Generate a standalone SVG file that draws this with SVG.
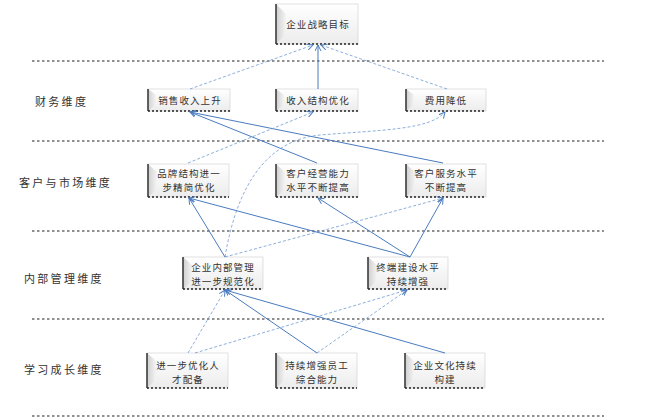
<svg xmlns="http://www.w3.org/2000/svg" width="651" height="420" viewBox="0 0 651 420">
<style>
.sep{stroke:#222;stroke-width:1.2;stroke-dasharray:2.5 2.5;fill:none}
.face{fill:url(#gf);stroke:#ccc;stroke-width:0.6}
.bev{fill:url(#gb)}
.lft{stroke:#333;stroke-width:1.5}
.bot{stroke:#222;stroke-width:1.3;stroke-dasharray:2 2}
.t{font-family:"Noto Sans CJK SC","Liberation Serif",serif;font-size:9.5px;fill:#333;text-anchor:middle;letter-spacing:1.1px}
.lab{font-family:"Noto Sans CJK SC","Liberation Serif",serif;font-size:11px;fill:#333;letter-spacing:2.3px}
.s{stroke:#4a7bbf;stroke-width:1;fill:none;marker-end:url(#ah)}
.d{stroke:#6f9bd2;stroke-width:0.8;fill:none;stroke-dasharray:3 2;marker-end:url(#ah)}
</style>
<defs>
<linearGradient id="gf" x1="0" y1="0" x2="0" y2="1"><stop offset="0" stop-color="#ffffff"/><stop offset="1" stop-color="#ececec"/></linearGradient>
<linearGradient id="gb" x1="0" y1="0" x2="1" y2="0"><stop offset="0" stop-color="#cfcfcf"/><stop offset="1" stop-color="#f4f4f4"/></linearGradient>
<marker id="ah" markerWidth="7" markerHeight="7" refX="6" refY="3.5" orient="auto" markerUnits="userSpaceOnUse"><path d="M0,0.5 L6,3.5 L0,6.5" fill="none" stroke="#4a7bbf" stroke-width="1"/></marker>
</defs>
<rect width="651" height="420" fill="#fff"/>
<g id="separators">
<line class="sep" x1="32" y1="61" x2="604" y2="61"/>
<line class="sep" x1="32" y1="141" x2="604" y2="141"/>
<line class="sep" x1="32" y1="231" x2="604" y2="231"/>
<line class="sep" x1="32" y1="319" x2="604" y2="319"/>
<line class="sep" x1="32" y1="416" x2="604" y2="416"/>
</g>
<g id="labels">
<text class="lab" x="35" y="106">财务维度</text>
<text class="lab" x="19" y="187">客户与市场维度</text>
<text class="lab" x="24" y="283">内部管理维度</text>
<text class="lab" x="24" y="374">学习成长维度</text>
</g>
<g id="n-goal">
<rect class="face" x="276" y="4" width="82" height="40"/>
<polygon class="bev" points="276,4 286,14 286,34 276,44"/>
<line class="lft" x1="276" y1="4" x2="276" y2="44"/>
<line class="bot" x1="276" y1="44" x2="358" y2="44"/>
<text class="t" x="318" y="28">企业战略目标</text>
</g>
<g id="n-fin1">
<rect class="face" x="148" y="89" width="82" height="22"/>
<polygon class="bev" points="148,89 156,95 156,105 148,111"/>
<line class="lft" x1="148" y1="89" x2="148" y2="111"/>
<line class="bot" x1="148" y1="111" x2="230" y2="111"/>
<text class="t" x="190" y="104">销售收入上升</text>
</g>
<g id="n-fin2">
<rect class="face" x="276" y="89" width="82" height="22"/>
<polygon class="bev" points="276,89 284,95 284,105 276,111"/>
<line class="lft" x1="276" y1="89" x2="276" y2="111"/>
<line class="bot" x1="276" y1="111" x2="358" y2="111"/>
<text class="t" x="318" y="104">收入结构优化</text>
</g>
<g id="n-fin3">
<rect class="face" x="406" y="89" width="80" height="22"/>
<polygon class="bev" points="406,89 414,95 414,105 406,111"/>
<line class="lft" x1="406" y1="89" x2="406" y2="111"/>
<line class="bot" x1="406" y1="111" x2="486" y2="111"/>
<text class="t" x="446" y="104">费用降低</text>
</g>
<g id="n-cus1">
<rect class="face" x="148" y="164" width="81" height="33"/>
<polygon class="bev" points="148,164 157,172 157,189 148,197"/>
<line class="lft" x1="148" y1="164" x2="148" y2="197"/>
<line class="bot" x1="148" y1="197" x2="229" y2="197"/>
<text class="t" x="189" y="177">品牌结构进一</text>
<text class="t" x="189" y="191">步精简优化</text>
</g>
<g id="n-cus2">
<rect class="face" x="276" y="164" width="82" height="33"/>
<polygon class="bev" points="276,164 285,172 285,189 276,197"/>
<line class="lft" x1="276" y1="164" x2="276" y2="197"/>
<line class="bot" x1="276" y1="197" x2="358" y2="197"/>
<text class="t" x="318" y="177">客户经营能力</text>
<text class="t" x="318" y="191">水平不断提高</text>
</g>
<g id="n-cus3">
<rect class="face" x="406" y="164" width="80" height="33"/>
<polygon class="bev" points="406,164 415,172 415,189 406,197"/>
<line class="lft" x1="406" y1="164" x2="406" y2="197"/>
<line class="bot" x1="406" y1="197" x2="486" y2="197"/>
<text class="t" x="446" y="177">客户服务水平</text>
<text class="t" x="446" y="191">不断提高</text>
</g>
<g id="n-int1">
<rect class="face" x="183" y="257" width="80" height="32"/>
<polygon class="bev" points="183,257 192,265 192,281 183,289"/>
<line class="lft" x1="183" y1="257" x2="183" y2="289"/>
<line class="bot" x1="183" y1="289" x2="263" y2="289"/>
<text class="t" x="223" y="271">企业内部管理</text>
<text class="t" x="223" y="285">进一步规范化</text>
</g>
<g id="n-int2">
<rect class="face" x="368" y="257" width="80" height="32"/>
<polygon class="bev" points="368,257 377,265 377,281 368,289"/>
<line class="lft" x1="368" y1="257" x2="368" y2="289"/>
<line class="bot" x1="368" y1="289" x2="448" y2="289"/>
<text class="t" x="408" y="271">终端建设水平</text>
<text class="t" x="408" y="285">持续增强</text>
</g>
<g id="n-lrn1">
<rect class="face" x="147" y="353" width="81" height="35"/>
<polygon class="bev" points="147,353 156,361 156,380 147,388"/>
<line class="lft" x1="147" y1="353" x2="147" y2="388"/>
<line class="bot" x1="147" y1="388" x2="228" y2="388"/>
<text class="t" x="188" y="369">进一步优化人</text>
<text class="t" x="188" y="383">才配备</text>
</g>
<g id="n-lrn2">
<rect class="face" x="276" y="353" width="81" height="35"/>
<polygon class="bev" points="276,353 285,361 285,380 276,388"/>
<line class="lft" x1="276" y1="353" x2="276" y2="388"/>
<line class="bot" x1="276" y1="388" x2="357" y2="388"/>
<text class="t" x="317" y="369">持续增强员工</text>
<text class="t" x="317" y="383">综合能力</text>
</g>
<g id="n-lrn3">
<rect class="face" x="405" y="353" width="80" height="35"/>
<polygon class="bev" points="405,353 414,361 414,380 405,388"/>
<line class="lft" x1="405" y1="353" x2="405" y2="388"/>
<line class="bot" x1="405" y1="388" x2="485" y2="388"/>
<text class="t" x="445" y="369">企业文化持续</text>
<text class="t" x="445" y="383">构建</text>
</g>
<g id="connectors">
<line class="d" x1="190" y1="89" x2="313" y2="45"/>
<line class="s" x1="318" y1="89" x2="318" y2="45"/>
<line class="d" x1="447" y1="89" x2="321" y2="45"/>
<line class="s" x1="317" y1="163" x2="190" y2="112"/>
<line class="s" x1="443" y1="163" x2="190" y2="112"/>
<line class="d" x1="188" y1="163" x2="313" y2="112"/>
<path class="d" d="M225,257 C238,180 270,140 320,135 C380,130 430,130 445,112"/>
<line class="s" x1="225" y1="257" x2="189" y2="198"/>
<line class="s" x1="410" y1="257" x2="189" y2="198"/>
<line class="s" x1="410" y1="257" x2="318" y2="198"/>
<line class="d" x1="225" y1="257" x2="443" y2="198"/>
<line class="s" x1="410" y1="257" x2="443" y2="198"/>
<line class="d" x1="188" y1="353" x2="225" y2="290"/>
<line class="s" x1="317" y1="353" x2="225" y2="290"/>
<line class="s" x1="445" y1="353" x2="225" y2="290"/>
<line class="d" x1="195" y1="353" x2="407" y2="290"/>
<line class="d" x1="317" y1="353" x2="407" y2="290"/>
</g>
</svg>
